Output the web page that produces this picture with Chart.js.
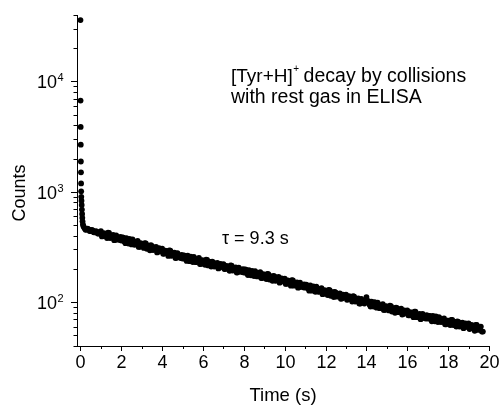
<!DOCTYPE html>
<html>
<head>
<meta charset="utf-8">
<script src="https://cdn.jsdelivr.net/npm/chart.js@4.4.1/dist/chart.umd.min.js"></script>
<style>
  html, body { margin: 0; padding: 0; background: #fff; }
  #wrap { width: 500px; height: 405px; }
</style>
</head>
<body>
<div id="wrap"><canvas id="decay-chart" width="500" height="405"></canvas></div>
<script>
// time (s) of each bin and counts
const timeS = [
  0.000, 0.005, 0.010, 0.015, 0.020, 0.025, 0.030, 0.035, 0.04, 0.05, 0.06, 0.07, 0.08, 0.09, 0.10, 0.12, 0.15,
  0.2, 0.3, 0.4, 0.5, 0.6, 0.7, 0.8, 0.9,
  1.0, 1.1, 1.2, 1.3, 1.4, 1.5, 1.6, 1.7, 1.8, 1.9,
  2.0, 2.1, 2.2, 2.3, 2.4, 2.5, 2.6, 2.7, 2.8, 2.9,
  3.0, 3.1, 3.2, 3.3, 3.4, 3.5, 3.6, 3.7, 3.8, 3.9,
  4.0, 4.1, 4.2, 4.3, 4.4, 4.5, 4.6, 4.7, 4.8, 4.9,
  5.0, 5.1, 5.2, 5.3, 5.4, 5.5, 5.6, 5.7, 5.8, 5.9,
  6.0, 6.1, 6.2, 6.3, 6.4, 6.5, 6.6, 6.7, 6.8, 6.9,
  7.0, 7.1, 7.2, 7.3, 7.4, 7.5, 7.6, 7.7, 7.8, 7.9,
  8.0, 8.1, 8.2, 8.3, 8.4, 8.5, 8.6, 8.7, 8.8, 8.9,
  9.0, 9.1, 9.2, 9.3, 9.4, 9.5, 9.6, 9.7, 9.8, 9.9,
  10.0, 10.1, 10.2, 10.3, 10.4, 10.5, 10.6, 10.7, 10.8, 10.9,
  11.0, 11.1, 11.2, 11.3, 11.4, 11.5, 11.6, 11.7, 11.8, 11.9,
  12.0, 12.1, 12.2, 12.3, 12.4, 12.5, 12.6, 12.7, 12.8, 12.9,
  13.0, 13.1, 13.2, 13.3, 13.4, 13.5, 13.6, 13.7, 13.8, 13.9,
  14.0, 14.1, 14.2, 14.3, 14.4, 14.5, 14.6, 14.7, 14.8, 14.9,
  15.0, 15.1, 15.2, 15.3, 15.4, 15.5, 15.6, 15.7, 15.8, 15.9,
  16.0, 16.1, 16.2, 16.3, 16.4, 16.5, 16.6, 16.7, 16.8, 16.9,
  17.0, 17.1, 17.2, 17.3, 17.4, 17.5, 17.6, 17.7, 17.8, 17.9,
  18.0, 18.1, 18.2, 18.3, 18.4, 18.5, 18.6, 18.7, 18.8, 18.9,
  19.0, 19.1, 19.2, 19.3, 19.4, 19.5, 19.6, 19.7
];
const counts = [
  36000, 6700, 3870, 2670, 1880, 1500, 1190, 1010, 900, 830, 760, 690, 630, 580, 540, 505, 485,
  468, 455, 457, 440, 446, 428, 434, 417,
  439, 396, 416, 380, 423, 390, 406, 366, 385, 366,
  361, 383, 342, 363, 373, 333, 357, 336, 358, 317,
  337, 310, 341, 308, 295, 322, 303, 317, 286, 303,
  305, 275, 289, 262, 293, 269, 280, 252, 265, 251,
  248, 264, 236, 251, 258, 231, 248, 234, 251, 222,
  237, 218, 241, 218, 210, 229, 216, 227, 205, 218,
  221, 200, 210, 192, 214, 198, 206, 186, 196, 187,
  185, 197, 176, 187, 192, 172, 185, 174, 187, 165,
  176, 162, 179, 162, 156, 171, 161, 169, 153, 162,
  163, 147, 155, 141, 157, 145, 151, 136, 143, 136,
  135, 142, 127, 135, 139, 124, 133, 125, 134, 119,
  126, 116, 128, 116, 111, 122, 115, 120, 108, 115,
  117, 106, 111, 101, 112, 104, 108, 97, 103, 97,
  111, 102, 91, 97, 100, 89, 95, 90, 96, 85,
  91, 84, 92, 83, 80, 88, 83, 87, 78, 83,
  84, 76, 80, 73, 82, 75, 78, 71, 74, 71,
  71, 75, 67, 71, 74, 66, 71, 67, 71, 63,
  68, 62, 69, 63, 60, 66, 62, 65, 59, 63,
  64, 58, 61, 55, 62, 57, 60, 54
];
// in-between bins
const timeHalfS = [
  0.25, 0.35, 0.45, 0.55, 0.65, 0.75, 0.85, 0.95,
  1.05, 1.15, 1.25, 1.35, 1.45, 1.55, 1.65, 1.75, 1.85, 1.95,
  2.05, 2.15, 2.25, 2.35, 2.45, 2.55, 2.65, 2.75, 2.85, 2.95,
  3.05, 3.15, 3.25, 3.35, 3.45, 3.55, 3.65, 3.75, 3.85, 3.95,
  4.05, 4.15, 4.25, 4.35, 4.45, 4.55, 4.65, 4.75, 4.85, 4.95,
  5.05, 5.15, 5.25, 5.35, 5.45, 5.55, 5.65, 5.75, 5.85, 5.95,
  6.05, 6.15, 6.25, 6.35, 6.45, 6.55, 6.65, 6.75, 6.85, 6.95,
  7.05, 7.15, 7.25, 7.35, 7.45, 7.55, 7.65, 7.75, 7.85, 7.95,
  8.05, 8.15, 8.25, 8.35, 8.45, 8.55, 8.65, 8.75, 8.85, 8.95,
  9.05, 9.15, 9.25, 9.35, 9.45, 9.55, 9.65, 9.75, 9.85, 9.95,
  10.05, 10.15, 10.25, 10.35, 10.45, 10.55, 10.65, 10.75, 10.85, 10.95,
  11.05, 11.15, 11.25, 11.35, 11.45, 11.55, 11.65, 11.75, 11.85, 11.95,
  12.05, 12.15, 12.25, 12.35, 12.45, 12.55, 12.65, 12.75, 12.85, 12.95,
  13.05, 13.15, 13.25, 13.35, 13.45, 13.55, 13.65, 13.75, 13.85, 13.95,
  14.05, 14.15, 14.25, 14.35, 14.45, 14.55, 14.65, 14.75, 14.85, 14.95,
  15.05, 15.15, 15.25, 15.35, 15.45, 15.55, 15.65, 15.75, 15.85, 15.95,
  16.05, 16.15, 16.25, 16.35, 16.45, 16.55, 16.65, 16.75, 16.85, 16.95,
  17.05, 17.15, 17.25, 17.35, 17.45, 17.55, 17.65, 17.75, 17.85, 17.95,
  18.05, 18.15, 18.25, 18.35, 18.45, 18.55, 18.65, 18.75, 18.85, 18.95,
  19.05, 19.15, 19.25, 19.35, 19.45, 19.55, 19.65
];
const countsHalf = [
  452, 463, 441, 451, 430, 440, 419, 428,
  394, 422, 398, 425, 380, 396, 364, 402, 375, 390,
  385, 355, 379, 339, 353, 370, 331, 347, 316, 342,
  321, 343, 304, 325, 328, 296, 310, 282, 308, 289,
  274, 293, 275, 294, 263, 273, 251, 277, 258, 268,
  265, 244, 263, 235, 245, 257, 230, 243, 221, 240,
  226, 242, 215, 231, 233, 210, 221, 202, 222, 209,
  199, 213, 201, 215, 193, 201, 185, 205, 191, 199,
  198, 182, 195, 175, 182, 191, 171, 181, 165, 179,
  169, 180, 160, 171, 173, 156, 165, 150, 164, 154,
  146, 157, 148, 158, 141, 147, 135, 150, 140, 145,
  144, 132, 142, 127, 132, 138, 124, 130, 118, 128,
  121, 129, 114, 123, 124, 112, 118, 107, 117, 110,
  105, 113, 106, 113, 101, 106, 97, 107, 100, 103,
  102, 95, 101, 91, 95, 99, 88, 93, 85, 92,
  87, 93, 82, 88, 89, 81, 85, 77, 84, 80,
  76, 81, 76, 82, 73, 76, 70, 78, 73, 76,
  75, 70, 75, 67, 70, 73, 66, 69, 63, 68,
  65, 69, 62, 66, 67, 60, 64, 58, 64, 60,
  57, 62, 58, 62, 56, 58, 54
];

const xTicks = [0, 1, 2, 3, 4, 5, 6, 7, 8, 9, 10, 11, 12, 13, 14, 15, 16, 17, 18, 19, 20];
const xLabels = ['0', '', '2', '', '4', '', '6', '', '8', '', '10', '', '12', '', '14', '', '16', '', '18', '', '20'];
const yDecades = [100, 1000, 10000];
const yExponents = ['2', '3', '4'];
const yMinor = [40, 50, 60, 70, 80, 90, 200, 300, 400, 500, 600, 700, 800, 900,
  2000, 3000, 4000, 5000, 6000, 7000, 8000, 9000, 20000, 30000, 40000];

const FONT = '"Liberation Sans", Arial, sans-serif';

const axisDecor = {
  id: 'axisDecor',
  afterDraw(chart) {
    const c = chart.ctx;
    const xs = chart.scales.x, ys = chart.scales.y;
    const left = chart.chartArea.left, bottom = chart.chartArea.bottom;
    c.save();
    c.strokeStyle = '#000';
    c.fillStyle = '#000';
    c.lineWidth = 1;

    // x ticks and labels
    c.font = '18px ' + FONT;
    c.textAlign = 'center';
    c.textBaseline = 'alphabetic';
    xTicks.forEach(function(v, i) {
      const px = Math.round(xs.getPixelForValue(v)) + 0.5;
      const len = xLabels[i] ? 5 : 3;
      c.beginPath();
      c.moveTo(px, bottom);
      c.lineTo(px, bottom + len);
      c.stroke();
      if (xLabels[i]) c.fillText(xLabels[i], px, 368);
    });

    // y ticks
    yMinor.forEach(function(v) {
      const py = Math.round(ys.getPixelForValue(v)) + 0.5;
      c.beginPath();
      c.moveTo(left, py);
      c.lineTo(left - 3.5, py);
      c.stroke();
    });
    yDecades.forEach(function(v, i) {
      const py = Math.round(ys.getPixelForValue(v)) + 0.5;
      c.beginPath();
      c.moveTo(left, py);
      c.lineTo(left - 6, py);
      c.stroke();
      c.font = '18px ' + FONT;
      c.textAlign = 'right';
      c.fillText('10', 57, py + 6.5);
      c.font = '11px ' + FONT;
      c.textAlign = 'left';
      c.fillText(yExponents[i], 57.5, py - 1);
    });

    // axis titles
    c.font = '18.5px ' + FONT;
    c.textAlign = 'center';
    c.fillText('Time (s)', (chart.chartArea.left + chart.chartArea.right) / 2, 401);
    c.save();
    c.translate(25, 193);
    c.rotate(-Math.PI / 2);
    c.font = '18px ' + FONT;
    c.fillText('Counts', 0, 0);
    c.restore();

    // annotations
    c.textAlign = 'left';
    c.font = '19px ' + FONT;
    c.fillText('[Tyr+H]', 231, 82);
    const w = c.measureText('[Tyr+H]').width;
    c.font = '10px ' + FONT;
    c.fillText('+', 231 + w + 0.5, 72);
    const w2 = c.measureText('+').width;
    c.font = '19.5px ' + FONT;
    c.fillText('decay by collisions', 231 + w + w2 + 5, 82);
    c.fillText('with rest gas in ELISA', 231, 103);
    c.font = '18px ' + FONT;
    c.fillText('\u03C4 = 9.3 s', 222, 244);
    c.restore();
  }
};

function toPoints(ts, vs) {
  return ts.map(function(t, i) { return { x: t, y: vs[i] }; });
}

const ctx = document.getElementById('decay-chart').getContext('2d');
new Chart(ctx, {
  type: 'scatter',
  data: {
    datasets: [{
      data: toPoints(timeS, counts),
      backgroundColor: '#000',
      borderWidth: 0,
      pointRadius: 2.9
    }, {
      data: toPoints(timeHalfS, countsHalf),
      backgroundColor: '#000',
      borderWidth: 0,
      pointRadius: 2.9
    }]
  },
  options: {
    responsive: false,
    animation: false,
    layout: { padding: { left: 0, right: 11, top: 15, bottom: 0 } },
    plugins: { legend: { display: false }, tooltip: { enabled: false } },
    scales: {
      x: {
        type: 'linear', min: -0.17, max: 20,
        grid: { drawOnChartArea: false, drawTicks: false },
        border: { color: '#000', width: 1 },
        ticks: { display: false },
        afterFit: function(s) { s.height = 59; }
      },
      y: {
        type: 'logarithmic', min: 40, max: 40000,
        grid: { drawOnChartArea: false, drawTicks: false },
        border: { color: '#000', width: 1 },
        ticks: { display: false },
        afterFit: function(s) { s.width = 77; }
      }
    }
  },
  plugins: [axisDecor]
});
</script>
</body>
</html>
